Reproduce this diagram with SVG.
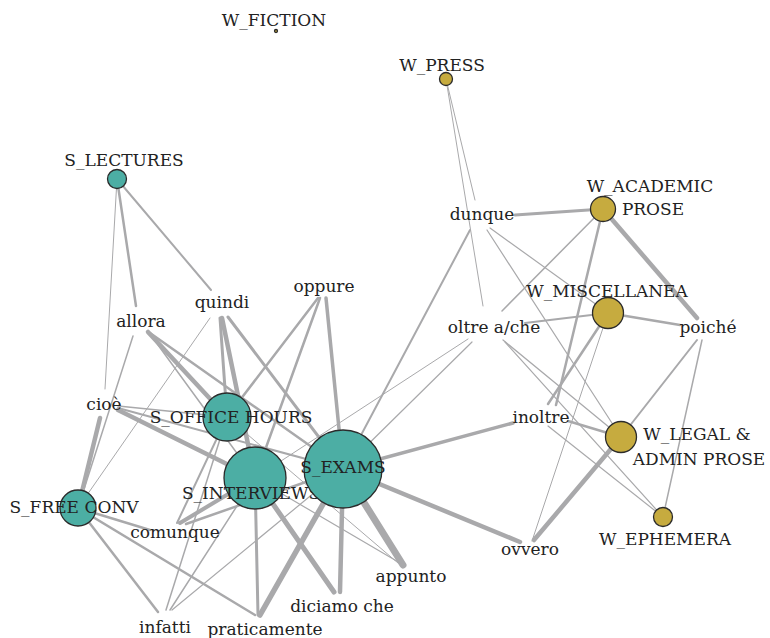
<svg xmlns="http://www.w3.org/2000/svg" width="770" height="638" viewBox="0 0 770 638">
<style>
.e{stroke:#a9a9ab;fill:none;stroke-linecap:round}
.s{fill:#4caea4;stroke:#2b2b2b;stroke-width:1.3}
.w{fill:#c6ab3f;stroke:#2b2b2b;stroke-width:1.3}
text{font-family:"DejaVu Serif","Liberation Serif",serif;font-size:17px;fill:#222;text-anchor:middle}
</style>
<rect width="770" height="638" fill="#ffffff"/>
<g id="edges">
<line class="e" x1="117" y1="179" x2="105" y2="389" stroke-width="1"/>
<line class="e" x1="117" y1="179" x2="136" y2="306" stroke-width="2.5"/>
<line class="e" x1="117" y1="179" x2="211" y2="290" stroke-width="2"/>
<line class="e" x1="446" y1="79" x2="475" y2="200" stroke-width="1"/>
<line class="e" x1="446" y1="79" x2="483" y2="306" stroke-width="1"/>
<line class="e" x1="603" y1="209" x2="515" y2="215" stroke-width="3"/>
<line class="e" x1="603" y1="209" x2="502" y2="311" stroke-width="1.5"/>
<line class="e" x1="603" y1="209" x2="556" y2="405" stroke-width="2.5"/>
<line class="e" x1="603" y1="209" x2="697" y2="318" stroke-width="4.5"/>
<line class="e" x1="608" y1="313" x2="490" y2="228" stroke-width="1.2"/>
<line class="e" x1="608" y1="313" x2="525" y2="323" stroke-width="2"/>
<line class="e" x1="608" y1="313" x2="548" y2="404" stroke-width="2.5"/>
<line class="e" x1="608" y1="313" x2="532" y2="541" stroke-width="1"/>
<line class="e" x1="608" y1="313" x2="680" y2="325" stroke-width="2.5"/>
<line class="e" x1="621" y1="437" x2="487" y2="230" stroke-width="1.2"/>
<line class="e" x1="621" y1="437" x2="503" y2="340" stroke-width="1.2"/>
<line class="e" x1="621" y1="437" x2="568" y2="421" stroke-width="2.5"/>
<line class="e" x1="621" y1="437" x2="697" y2="340" stroke-width="2"/>
<line class="e" x1="621" y1="437" x2="534" y2="540" stroke-width="4.5"/>
<line class="e" x1="663" y1="517" x2="505" y2="342" stroke-width="1.2"/>
<line class="e" x1="663" y1="517" x2="548" y2="426" stroke-width="1.2"/>
<line class="e" x1="663" y1="517" x2="702" y2="340" stroke-width="1.5"/>
<line class="e" x1="343" y1="469" x2="470" y2="230" stroke-width="2"/>
<line class="e" x1="343" y1="469" x2="472" y2="342" stroke-width="1.2"/>
<line class="e" x1="343" y1="469" x2="513" y2="423" stroke-width="3.5"/>
<line class="e" x1="343" y1="469" x2="520" y2="542" stroke-width="4.5"/>
<line class="e" x1="343" y1="469" x2="403" y2="565" stroke-width="7"/>
<line class="e" x1="343" y1="469" x2="340" y2="592" stroke-width="4.5"/>
<line class="e" x1="343" y1="469" x2="260" y2="615" stroke-width="5.5"/>
<line class="e" x1="343" y1="469" x2="172" y2="610" stroke-width="1.2"/>
<line class="e" x1="343" y1="469" x2="186" y2="524" stroke-width="2.5"/>
<line class="e" x1="343" y1="469" x2="118" y2="408" stroke-width="2"/>
<line class="e" x1="343" y1="469" x2="150" y2="333" stroke-width="2.5"/>
<line class="e" x1="343" y1="469" x2="228" y2="317" stroke-width="3"/>
<line class="e" x1="343" y1="469" x2="326" y2="298" stroke-width="3.5"/>
<line class="e" x1="255" y1="478" x2="468" y2="339" stroke-width="1"/>
<line class="e" x1="255" y1="478" x2="400" y2="563" stroke-width="1.2"/>
<line class="e" x1="255" y1="478" x2="334" y2="592" stroke-width="5"/>
<line class="e" x1="255" y1="478" x2="258" y2="615" stroke-width="3"/>
<line class="e" x1="255" y1="478" x2="170" y2="610" stroke-width="1.5"/>
<line class="e" x1="255" y1="478" x2="180" y2="523" stroke-width="4"/>
<line class="e" x1="255" y1="478" x2="118" y2="410" stroke-width="4.5"/>
<line class="e" x1="255" y1="478" x2="150" y2="334" stroke-width="1.5"/>
<line class="e" x1="255" y1="478" x2="222" y2="318" stroke-width="4.5"/>
<line class="e" x1="255" y1="478" x2="320" y2="298" stroke-width="2.5"/>
<line class="e" x1="227" y1="417" x2="398" y2="563" stroke-width="1"/>
<line class="e" x1="227" y1="417" x2="166" y2="610" stroke-width="1.5"/>
<line class="e" x1="227" y1="417" x2="177" y2="523" stroke-width="2"/>
<line class="e" x1="227" y1="417" x2="118" y2="406" stroke-width="1.5"/>
<line class="e" x1="227" y1="417" x2="148" y2="332" stroke-width="4.5"/>
<line class="e" x1="227" y1="417" x2="220" y2="318" stroke-width="3"/>
<line class="e" x1="227" y1="417" x2="318" y2="298" stroke-width="2.5"/>
<line class="e" x1="78" y1="508" x2="100" y2="418" stroke-width="4.5"/>
<line class="e" x1="78" y1="508" x2="133" y2="336" stroke-width="1.5"/>
<line class="e" x1="78" y1="508" x2="210" y2="318" stroke-width="1"/>
<line class="e" x1="78" y1="508" x2="150" y2="530" stroke-width="2.5"/>
<line class="e" x1="78" y1="508" x2="158" y2="612" stroke-width="2.5"/>
<line class="e" x1="78" y1="508" x2="255" y2="615" stroke-width="2.5"/>
</g>
<g id="n-w_fiction"><circle class="w" cx="276" cy="31" r="1.5" stroke-width="0.6"/><text x="274" y="26">W_FICTION</text></g>
<g id="n-w_press"><circle class="w" cx="446" cy="79" r="6.5"/><text x="442" y="71">W_PRESS</text></g>
<g id="n-s_lectures"><circle class="s" cx="117" cy="179" r="9.5"/><text x="124" y="166">S_LECTURES</text></g>
<g id="n-w_academic"><circle class="w" cx="603" cy="209" r="12.5"/><text x="650" y="192">W_ACADEMIC</text><text x="653" y="215">PROSE</text></g>
<g id="n-w_miscellanea"><circle class="w" cx="608" cy="313" r="15.5"/><text x="607" y="297">W_MISCELLANEA</text></g>
<g id="n-w_legal"><circle class="w" cx="621" cy="437" r="15.5"/><text x="697" y="440">W_LEGAL &amp;</text><text x="699" y="465">ADMIN PROSE</text></g>
<g id="n-w_ephemera"><circle class="w" cx="663" cy="517" r="9.5"/><text x="665" y="545">W_EPHEMERA</text></g>
<g id="n-s_office"><circle class="s" cx="227" cy="417" r="24"/><text x="231" y="423">S_OFFICE HOURS</text></g>
<g id="n-s_interviews"><circle class="s" cx="255" cy="478" r="31"/><text x="251" y="499">S_INTERVIEWS</text></g>
<g id="n-s_exams"><circle class="s" cx="343" cy="469" r="39"/><text x="343" y="473">S_EXAMS</text></g>
<g id="n-s_free"><circle class="s" cx="78" cy="508" r="18"/><text x="74" y="513">S_FREE CONV</text></g>
<g id="n-dunque"><text x="482" y="220">dunque</text></g>
<g id="n-oltre"><text x="494" y="333">oltre a/che</text></g>
<g id="n-poiche"><text x="708" y="333">poiché</text></g>
<g id="n-inoltre"><text x="541" y="423">inoltre</text></g>
<g id="n-ovvero"><text x="530" y="555">ovvero</text></g>
<g id="n-appunto"><text x="411" y="582">appunto</text></g>
<g id="n-diciamo"><text x="342" y="612">diciamo che</text></g>
<g id="n-praticamente"><text x="265" y="635">praticamente</text></g>
<g id="n-infatti"><text x="165" y="633">infatti</text></g>
<g id="n-comunque"><text x="175" y="538">comunque</text></g>
<g id="n-cioe"><text x="104" y="410">cioè</text></g>
<g id="n-allora"><text x="141" y="327">allora</text></g>
<g id="n-quindi"><text x="222" y="308">quindi</text></g>
<g id="n-oppure"><text x="324" y="292">oppure</text></g>
</svg>
